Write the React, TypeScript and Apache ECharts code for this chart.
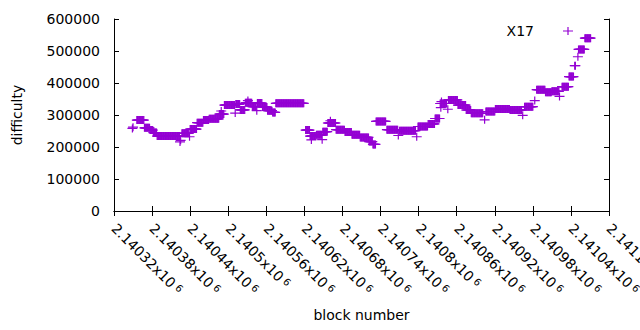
import React, { useEffect, useRef } from "react";
import * as echarts from "echarts";

// Runs of blocks sharing one difficulty value
const runStart = [
  2140349, 2140350, 2140356, 2140368, 2140377, 2140382, 2140388, 2140424, 2140425, 2140427,
  2140439, 2140440, 2140451, 2140461, 2140470, 2140486, 2140489, 2140494, 2140511, 2140512,
  2140519, 2140527, 2140531, 2140538, 2140545, 2140546, 2140554, 2140562, 2140570, 2140575,
  2140622, 2140629, 2140631, 2140639, 2140648, 2140649, 2140657, 2140661, 2140670, 2140684,
  2140695, 2140708, 2140722, 2140728, 2140733, 2140750, 2140768, 2140770, 2140797, 2140799,
  2140815, 2140826, 2140834, 2140835, 2140836, 2140846, 2140847, 2140862, 2140875, 2140883,
  2140904, 2140906, 2140921, 2140944, 2140964, 2140967, 2140983, 2140986, 2141000, 2141010,
  2141022, 2141026, 2141037, 2141046, 2141051, 2141052, 2141062,
];
const runEnd = [
  2140349, 2140350, 2140367, 2140376, 2140381, 2140387, 2140423, 2140424, 2140425, 2140438,
  2140439, 2140450, 2140460, 2140469, 2140485, 2140493, 2140489, 2140510, 2140511, 2140518,
  2140526, 2140537, 2140531, 2140544, 2140545, 2140553, 2140561, 2140569, 2140574, 2140619,
  2140628, 2140638, 2140631, 2140647, 2140648, 2140656, 2140669, 2140661, 2140683, 2140694,
  2140707, 2140721, 2140727, 2140732, 2140748, 2140767, 2140768, 2140795, 2140797, 2140814,
  2140825, 2140833, 2140844, 2140835, 2140836, 2140846, 2140861, 2140874, 2140882, 2140901,
  2140904, 2140920, 2140943, 2140962, 2140964, 2140980, 2140983, 2140999, 2141009, 2141021,
  2141022, 2141036, 2141044, 2141047, 2141051, 2141061, 2141071,
];
const runValue = [
  258000, 262000, 284000, 260000, 253000, 245000, 234000, 216000, 221000, 243000,
  232000, 256000, 276000, 284000, 288000, 303000, 312500, 331000, 306000, 334000,
  316000, 338000, 345000, 326000, 313500, 337500, 325000, 313500, 308000, 336500,
  253000, 234000, 222000, 238000, 223000, 248000, 275000, 282000, 254000, 247000,
  238000, 230000, 217000, 208000, 280000, 254000, 236000, 251000, 232000, 264000,
  272000, 289000, 336000, 323000, 342000, 318000, 347000, 331000, 315600, 305500,
  285000, 311000, 318700, 316000, 299000, 326000, 345000, 379000, 371000, 374000,
  358000, 388500, 420000, 454000, 482000, 505000, 540000,
];

const seriesName = "X17";
const xTitle = "block number";
const yTitle = "difficulty";
const xMin = 2140320;
const xMax = 2141100;
const xStep = 60;
const yMin = 0;
const yMax = 600000;
const yStep = 100000;

const COLOR = "#9400d3";
const FONT = "DejaVu Sans";
const PLUS = "path://M0,3.4H10V4.6H0Z M4.4,0H5.6V8H4.4Z";

function buildPoints(): number[][] {
  const pts: number[][] = [];
  for (let i = 0; i < runStart.length; i++) {
    for (let b = runStart[i]; b <= runEnd[i]; b++) pts.push([b, runValue[i]]);
  }
  return pts;
}

function fmtX(v: number): string {
  const s = (v / 1e6).toFixed(5).replace(/0+$/, "").replace(/\.$/, "");
  return `{m|${s}x10}{e|6}`;
}

function fmtY(v: number): string {
  return String(Math.round(v));
}

export default function App() {
  const ref = useRef<HTMLDivElement>(null);
  useEffect(() => {
    if (!ref.current) return;
    const chart = echarts.init(ref.current, undefined, { renderer: "svg" });
    const axisLine = { show: true, lineStyle: { color: "#000", width: 1 } };
    const tick = { show: true, inside: true, length: 5, lineStyle: { color: "#000", width: 1 } };
    chart.setOption({
      animation: false,
      textStyle: { fontFamily: FONT },
      grid: { left: 114, right: 31, top: 19, bottom: 119, containLabel: false, outerBoundsMode: "none" },
      legend: {
        right: 67,
        top: 24,
        padding: 0,
        align: "right",
        itemWidth: 58,
        itemHeight: 8,
        itemGap: 0,
        selectedMode: false,
        textStyle: { fontFamily: FONT, fontSize: 14, color: "#000" },
        data: [{ name: seriesName, icon: PLUS }],
      },
      xAxis: [
        {
          type: "value",
          min: xMin,
          max: xMax,
          interval: xStep,
          position: "bottom",
          name: xTitle,
          nameLocation: "middle",
          nameGap: 97,
          nameTextStyle: { fontFamily: FONT, fontSize: 14, color: "#000" },
          axisLine,
          axisTick: tick,
          splitLine: { show: false },
          axisLabel: {
            rotate: -45,
            margin: 15,
            color: "#000",
            showMinLabel: true,
            showMaxLabel: true,
            hideOverlap: false,
            formatter: fmtX,
            rich: {
              m: { fontFamily: FONT, fontSize: 14, color: "#000" },
              e: { fontFamily: FONT, fontSize: 10, color: "#000", verticalAlign: "top", padding: [0, 0, 0, 3] },
            },
          },
        },
        {
          type: "value",
          min: xMin,
          max: xMax,
          interval: xStep,
          position: "top",
          axisLine,
          axisTick: tick,
          splitLine: { show: false },
          axisLabel: { show: false },
        },
      ],
      yAxis: [
        {
          type: "value",
          min: yMin,
          max: yMax,
          interval: yStep,
          position: "left",
          name: yTitle,
          nameLocation: "middle",
          nameGap: 90,
          nameTextStyle: { fontFamily: FONT, fontSize: 14, color: "#000" },
          axisLine,
          axisTick: tick,
          splitLine: { show: false },
          axisLabel: { margin: 14, color: "#000", fontFamily: FONT, fontSize: 14, formatter: fmtY },
        },
        {
          type: "value",
          min: yMin,
          max: yMax,
          interval: yStep,
          position: "right",
          axisLine,
          axisTick: tick,
          splitLine: { show: false },
          axisLabel: { show: false },
        },
      ],
      series: [
        {
          name: seriesName,
          type: "scatter",
          xAxisIndex: 0,
          yAxisIndex: 0,
          symbol: PLUS,
          symbolSize: [10, 8],
          itemStyle: { color: COLOR, opacity: 1 },
          emphasis: { disabled: true },
          data: buildPoints(),
        },
      ],
    });
    return () => chart.dispose();
  }, []);
  return (
    <div
      ref={ref}
      style={{ position: "fixed", left: 0, top: 0, width: 640, height: 330, background: "#fff" }}
    />
  );
}
